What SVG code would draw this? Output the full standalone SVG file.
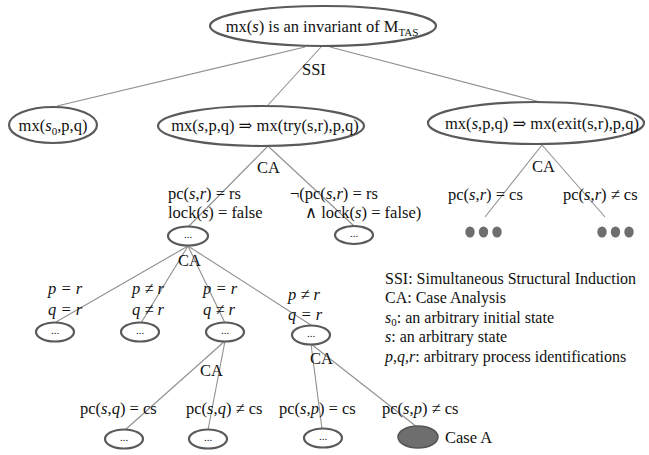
<svg xmlns="http://www.w3.org/2000/svg" width="649" height="455" viewBox="0 0 649 455">
  <style>
    text { font-family: "Liberation Serif", "Times New Roman", "DejaVu Serif", serif; fill: #111; }
    .n { font-size: 16.5px; }
    .lbl { font-size: 16.5px; }
    .leg { font-size: 16px; }
    .dots { font-size: 11px; text-anchor: middle; }
    .i { font-style: italic; }
    .box { fill: #fff; stroke: #5a5a5a; stroke-width: 2.2; }
    .edge { stroke: #8f8f8f; stroke-width: 1.1; fill: none; }
    .blob { fill: #6e6e6e; }
  </style>

  <!-- connectors -->
  <g id="connectors" class="edge">
    <line x1="305" y1="47" x2="57" y2="106"/>
    <line x1="321" y1="47" x2="268" y2="105"/>
    <line x1="330" y1="47" x2="540" y2="102"/>
    <line x1="268" y1="146" x2="188" y2="227"/>
    <line x1="268" y1="146" x2="354" y2="226"/>
    <line x1="542" y1="145" x2="485" y2="217"/>
    <line x1="542" y1="145" x2="605" y2="217"/>
    <line x1="188" y1="246" x2="56" y2="322"/>
    <line x1="188" y1="246" x2="141" y2="323"/>
    <line x1="188" y1="246" x2="225" y2="323"/>
    <line x1="188" y1="246" x2="314" y2="327"/>
    <line x1="225" y1="341" x2="125" y2="430"/>
    <line x1="225" y1="341" x2="208" y2="430"/>
    <line x1="311" y1="344" x2="322" y2="429"/>
    <line x1="311" y1="344" x2="417" y2="427"/>
  </g>

  <!-- root goal -->
  <g id="root">
    <ellipse class="box" cx="323" cy="26" rx="113" ry="20"/>
    <text class="n" x="322" y="32" text-anchor="middle">mx(<tspan class="i">s</tspan>) is an invariant of M<tspan font-size="11" dy="4">TAS</tspan></text>
  </g>
  <text class="lbl" x="302" y="75">SSI</text>

  <!-- induction cases -->
  <g id="base">
    <ellipse class="box" cx="53" cy="125" rx="44" ry="18"/>
    <text class="n" x="53" y="131" text-anchor="middle">mx(<tspan class="i">s</tspan><tspan font-size="11" dy="4">0</tspan><tspan dy="-4">,p,q)</tspan></text>
  </g>
  <g id="try">
    <ellipse class="box" cx="261" cy="126" rx="103" ry="20"/>
    <text class="n" x="265" y="131" text-anchor="middle">mx(<tspan class="i">s</tspan>,p,q) ⇒ mx(try(s,r),p,q)</text>
  </g>
  <g id="exit">
    <ellipse class="box" cx="536" cy="123" rx="108" ry="21"/>
    <text class="n" x="542" y="129" text-anchor="middle">mx(<tspan class="i">s</tspan>,p,q) ⇒ mx(exit(s,r),p,q)</text>
  </g>

  <!-- try: case analysis -->
  <text class="lbl" x="257" y="173">CA</text>
  <text class="lbl" x="168" y="199">pc(<tspan class="i">s</tspan>,<tspan class="i">r</tspan>) = rs</text>
  <text class="lbl" x="168" y="218">lock(<tspan class="i">s</tspan>) = false</text>
  <text class="lbl" x="290" y="199">¬(pc(<tspan class="i">s</tspan>,<tspan class="i">r</tspan>) = rs</text>
  <text class="lbl" x="305" y="218">∧ lock(<tspan class="i">s</tspan>) = false)</text>

  <g id="try-enabled">
    <ellipse class="box" cx="188" cy="236" rx="20" ry="9.5"/>
    <text class="dots" x="188" y="238">...</text>
  </g>
  <g id="try-disabled">
    <ellipse class="box" cx="354" cy="235" rx="19" ry="9"/>
    <text class="dots" x="354" y="237">...</text>
  </g>

  <!-- exit: case analysis -->
  <text class="lbl" x="532" y="172">CA</text>
  <text class="lbl" x="448" y="200">pc(<tspan class="i">s</tspan>,<tspan class="i">r</tspan>) = cs</text>
  <text class="lbl" x="563" y="200">pc(<tspan class="i">s</tspan>,<tspan class="i">r</tspan>) ≠ cs</text>
  <g id="exit-cs" class="blob">
    <ellipse cx="470" cy="232" rx="4.7" ry="5.5"/>
    <ellipse cx="483.5" cy="232" rx="4.7" ry="5.5"/>
    <ellipse cx="497" cy="232" rx="4.7" ry="5.5"/>
  </g>
  <g id="exit-not-cs" class="blob">
    <ellipse cx="602" cy="232" rx="4.7" ry="5.5"/>
    <ellipse cx="615.5" cy="232" rx="4.7" ry="5.5"/>
    <ellipse cx="629" cy="232" rx="4.7" ry="5.5"/>
  </g>

  <!-- process cases -->
  <text class="lbl" x="178" y="266">CA</text>
  <text class="lbl i" x="48" y="294">p = r</text>
  <text class="lbl i" x="48" y="315">q = r</text>
  <text class="lbl i" x="132" y="294">p ≠ r</text>
  <text class="lbl i" x="132" y="315">q ≠ r</text>
  <text class="lbl i" x="203" y="294">p = r</text>
  <text class="lbl i" x="203" y="315">q ≠ r</text>
  <text class="lbl i" x="288" y="300">p ≠ r</text>
  <text class="lbl i" x="288" y="320">q = r</text>

  <g id="pr-qr">
    <ellipse class="box" cx="55" cy="332" rx="19" ry="9.5"/>
    <text class="dots" x="55" y="334">...</text>
  </g>
  <g id="npr-nqr">
    <ellipse class="box" cx="140" cy="332" rx="19" ry="9.5"/>
    <text class="dots" x="140" y="334">...</text>
  </g>
  <g id="pr-nqr">
    <ellipse class="box" cx="225" cy="332" rx="19" ry="9.5"/>
    <text class="dots" x="225" y="334">...</text>
  </g>
  <g id="npr-qr">
    <ellipse class="box" cx="311" cy="335" rx="19" ry="9.5"/>
    <text class="dots" x="311" y="337">...</text>
  </g>

  <!-- lower case analyses -->
  <text class="lbl" x="200" y="376">CA</text>
  <text class="lbl" x="310" y="364">CA</text>
  <text class="lbl" x="80" y="414">pc(<tspan class="i">s</tspan>,<tspan class="i">q</tspan>) = cs</text>
  <text class="lbl" x="186" y="414">pc(<tspan class="i">s</tspan>,<tspan class="i">q</tspan>) ≠ cs</text>
  <text class="lbl" x="279" y="414">pc(<tspan class="i">s</tspan>,<tspan class="i">p</tspan>) = cs</text>
  <text class="lbl" x="382" y="414">pc(<tspan class="i">s</tspan>,<tspan class="i">p</tspan>) ≠ cs</text>

  <g id="q-cs">
    <ellipse class="box" cx="124" cy="439" rx="19" ry="9.5"/>
    <text class="dots" x="124" y="441">...</text>
  </g>
  <g id="q-not-cs">
    <ellipse class="box" cx="208" cy="439" rx="19" ry="9.5"/>
    <text class="dots" x="208" y="441">...</text>
  </g>
  <g id="p-cs">
    <ellipse class="box" cx="323" cy="438" rx="19" ry="9.5"/>
    <text class="dots" x="323" y="440">...</text>
  </g>
  <g id="case-a">
    <ellipse cx="418" cy="437" rx="20" ry="11" fill="#6e6e6e" stroke="#555" stroke-width="1.5"/>
    <text class="lbl" x="445" y="443">Case A</text>
  </g>

  <!-- legend -->
  <g id="legend" class="leg">
    <text x="385" y="284">SSI: Simultaneous Structural Induction</text>
    <text x="385" y="303">CA: Case Analysis</text>
    <text x="385" y="323"><tspan class="i">s</tspan><tspan font-size="11" dy="3">0</tspan><tspan dy="-3">: an arbitrary initial state</tspan></text>
    <text x="385" y="342"><tspan class="i">s</tspan>: an arbitrary state</text>
    <text x="385" y="362"><tspan class="i">p</tspan>,<tspan class="i">q</tspan>,<tspan class="i">r</tspan>: arbitrary process identifications</text>
  </g>
</svg>
